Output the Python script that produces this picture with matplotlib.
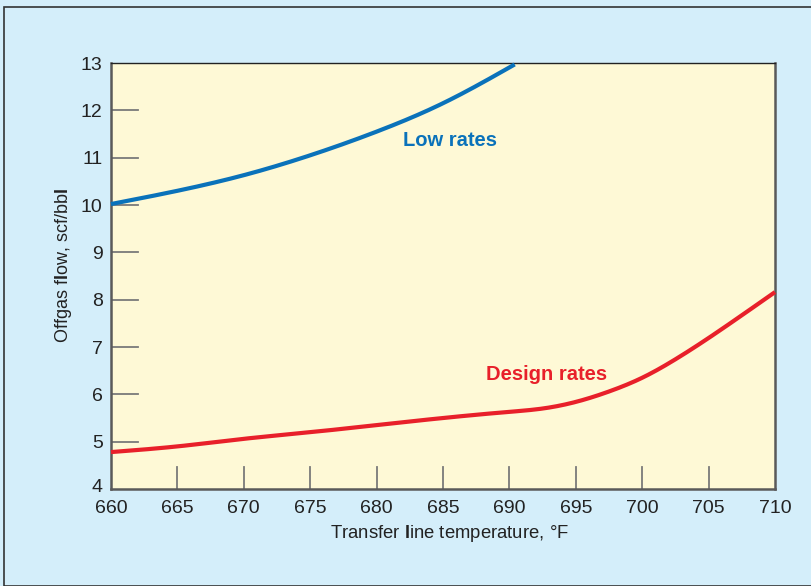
import matplotlib
matplotlib.use("Agg")
import matplotlib.pyplot as plt
from matplotlib.patches import Rectangle
import matplotlib.transforms as mtrans
import numpy as np

plt.rcParams['font.family'] = ['Liberation Sans', 'DejaVu Sans']
plt.rcParams['mathtext.fontset'] = 'custom'
plt.rcParams['mathtext.bf'] = 'Liberation Sans:bold'
plt.rcParams['mathtext.rm'] = 'Liberation Sans'

low_x = [660, 665, 670, 675, 680, 685, 690.4]
low_y = [10.02, 10.3, 10.63, 11.05, 11.55, 12.15, 12.97]

design_x = [660, 665, 670, 675, 680, 685, 690, 692.5, 695, 697.5, 700, 702.5, 705, 707.5, 710]
design_y = [4.78, 4.90, 5.06, 5.20, 5.35, 5.50, 5.63, 5.70, 5.84, 6.06, 6.35, 6.74, 7.19, 7.67, 8.16]

x_ticks = [660, 665, 670, 675, 680, 685, 690, 695, 700, 705, 710]
y_ticks = [4, 5, 6, 7, 8, 9, 10, 11, 12, 13]

W, H = 811, 586
fig = plt.figure(figsize=(W/100, H/100), dpi=100)
fig.patch.set_facecolor('#D4EEFA')
fig.patches.append(Rectangle((4/W, 0), 1, 1 - 7/H, transform=fig.transFigure,
                             fill=False, edgecolor='#333333', lw=1.2))

ax = fig.add_axes([111/W, 1 - 489/H, (775-111)/W, (489-63)/H])
ax.set_facecolor('#FEF9D6')

def spline(xs, ys, n=400):
    xs = np.asarray(xs, float); ys = np.asarray(ys, float)
    k = len(xs); h = np.diff(xs)
    A = np.zeros((k, k)); b = np.zeros(k)
    A[0, 0] = 1; A[-1, -1] = 1
    for i in range(1, k-1):
        A[i, i-1] = h[i-1]; A[i, i] = 2*(h[i-1]+h[i]); A[i, i+1] = h[i]
        b[i] = 6*((ys[i+1]-ys[i])/h[i] - (ys[i]-ys[i-1])/h[i-1])
    M = np.linalg.solve(A, b)
    t = np.linspace(xs[0], xs[-1], n)
    idx = np.clip(np.searchsorted(xs, t) - 1, 0, k-2)
    x0 = xs[idx]; x1 = xs[idx+1]; hh = h[idx]
    y = (M[idx]*(x1-t)**3 + M[idx+1]*(t-x0)**3)/(6*hh) \
        + (ys[idx]/hh - M[idx]*hh/6)*(x1-t) + (ys[idx+1]/hh - M[idx+1]*hh/6)*(t-x0)
    return t, y

lx, ly = spline(low_x, low_y)
dx, dy = spline(design_x, design_y)
ax.plot(lx, ly, color='#0A72BA', lw=3, solid_capstyle='butt', clip_on=False, zorder=3)
ax.plot(dx, dy, color='#E8202A', lw=3, solid_capstyle='butt', clip_on=False, zorder=3)

ax.set_xlim(660, 710)
ax.set_ylim(4, 13)

for yv in y_ticks[1:-1]:
    ax.plot([660, 662], [yv, yv], color='#7a7a7a', lw=1.3, zorder=2)
for xv in x_ticks[1:-1]:
    ax.plot([xv, xv], [4, 4.47], color='#7a7a7a', lw=1.3, zorder=2)

ax.set_xticks(x_ticks)
ax.set_yticks(y_ticks)
ax.tick_params(length=0, labelsize=14, colors='#222222')
ax.tick_params(axis='y', pad=6)
ax.tick_params(axis='x', pad=8)

# lift the bottom "4" label slightly so it clears the "660" label
lbl4 = ax.get_yticklabels()[0]
lbl4.set_transform(lbl4.get_transform() + mtrans.ScaledTranslation(0, 4/100, fig.dpi_scale_trans))

for s in ['left', 'bottom', 'right']:
    ax.spines[s].set_color('#5a5a5a')
    ax.spines[s].set_linewidth(1.8)
ax.spines['top'].set_color('#222222')
ax.spines['top'].set_linewidth(1.0)

ax.text(685.5, 11.37, 'Low rates', color='#0A72BA', fontsize=14.5, fontweight='bold',
        ha='center', va='center')
ax.text(692.8, 6.41, 'Design rates', color='#E8202A', fontsize=14.5, fontweight='bold',
        ha='center', va='center')

fig.text(63/W, 1 - 266/H, r'Offgas f$\mathbf{l}$ow, scf/bb$\mathbf{l}$', rotation=90,
         ha='center', va='center', fontsize=13, color='#222222')
fig.text(449/W, 1 - 533/H, r'Transfer $\mathbf{l}$ine temperature, °F',
         ha='center', va='center', fontsize=13.3, color='#222222')

fig.savefig('out.png', dpi=100, facecolor=fig.get_facecolor())
